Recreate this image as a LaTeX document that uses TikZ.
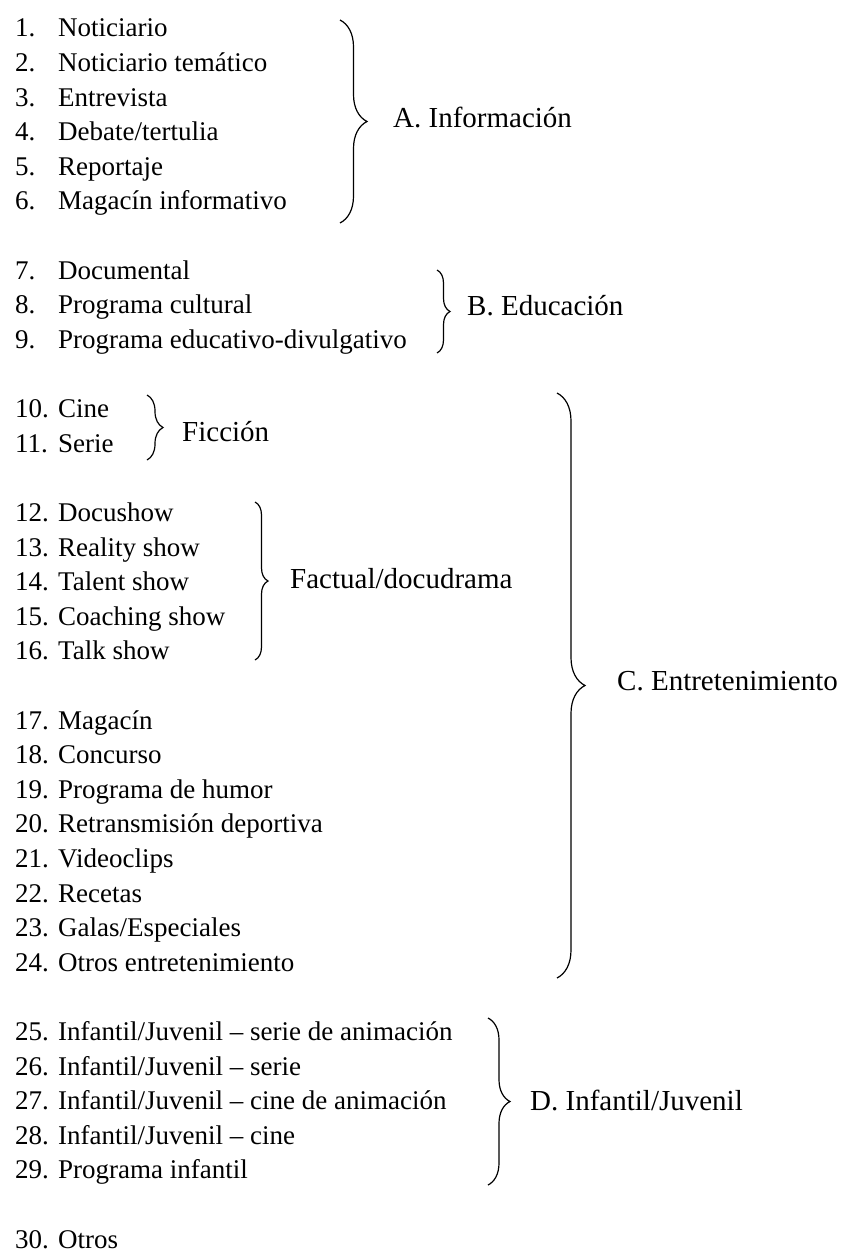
\documentclass[tikz,border=0pt]{standalone}
\usepackage{fontspec}
\setmainfont{Liberation Serif}
\usetikzlibrary{decorations.pathreplacing}
\newcommand{\rowgap}{34.6}
\newcommand{\numw}{43pt}
\newcommand{\entry}[2]{\makebox[\numw][l]{#1.}#2}
\tikzset{
    common/.style={inner sep=0pt, font=\fontsize{27}{32}\selectfont},
    item/.style={common, anchor=base west},
    catlabel/.style={common, anchor=base west, font=\fontsize{29}{34}\selectfont},
    grp/.style={decorate, decoration={brace, amplitude=#1}, line width=1.2pt}
}
\begin{document}
\begin{tikzpicture}[x=1pt, y=-1pt]
              \useasboundingbox (0,0) rectangle (842,1252);

              \path
                  (15,37) node[item] (r1) {\entry{1}{Noticiario}}
                  ++(0,\rowgap) node[item] (r2) {\entry{2}{Noticiario temático}}
                  ++(0,\rowgap) node[item] (r3) {\entry{3}{Entrevista}}
                  ++(0,\rowgap) node[item] (r4) {\entry{4}{Debate/tertulia}}
                  ++(0,\rowgap) node[item] (r5) {\entry{5}{Reportaje}}
                  ++(0,\rowgap) node[item] (r6) {\entry{6}{Magacín informativo}}
                  ++(0,2*\rowgap) node[item] (r7) {\entry{7}{Documental}}
                  ++(0,\rowgap) node[item] (r8) {\entry{8}{Programa cultural}}
                  ++(0,\rowgap) node[item] (r9) {\entry{9}{Programa educativo-divulgativo}}
                  ++(0,2*\rowgap) node[item] (r10) {\entry{10}{Cine}}
                  ++(0,\rowgap) node[item] (r11) {\entry{11}{Serie}}
                  ++(0,2*\rowgap) node[item] (r12) {\entry{12}{Docushow}}
                  ++(0,\rowgap) node[item] (r13) {\entry{13}{Reality show}}
                  ++(0,\rowgap) node[item] (r14) {\entry{14}{Talent show}}
                  ++(0,\rowgap) node[item] (r15) {\entry{15}{Coaching show}}
                  ++(0,\rowgap) node[item] (r16) {\entry{16}{Talk show}}
                  ++(0,2*\rowgap) node[item] (r17) {\entry{17}{Magacín}}
                  ++(0,\rowgap) node[item] (r18) {\entry{18}{Concurso}}
                  ++(0,\rowgap) node[item] (r19) {\entry{19}{Programa de humor}}
                  ++(0,\rowgap) node[item] (r20) {\entry{20}{Retransmisión deportiva}}
                  ++(0,\rowgap) node[item] (r21) {\entry{21}{Videoclips}}
                  ++(0,\rowgap) node[item] (r22) {\entry{22}{Recetas}}
                  ++(0,\rowgap) node[item] (r23) {\entry{23}{Galas/Especiales}}
                  ++(0,\rowgap) node[item] (r24) {\entry{24}{Otros entretenimiento}}
                  ++(0,2*\rowgap) node[item] (r25) {\entry{25}{Infantil/Juvenil – serie de animación}}
                  ++(0,\rowgap) node[item] (r26) {\entry{26}{Infantil/Juvenil – serie}}
                  ++(0,\rowgap) node[item] (r27) {\entry{27}{Infantil/Juvenil – cine de animación}}
                  ++(0,\rowgap) node[item] (r28) {\entry{28}{Infantil/Juvenil – cine}}
                  ++(0,\rowgap) node[item] (r29) {\entry{29}{Programa infantil}}
                  ++(0,2*\rowgap) node[item] (r30) {\entry{30}{Otros}};

              % braces
              \draw[grp=27] (340,20) -- (340,223);
              \draw[grp=13] (437,270) -- (437,353);
              \draw[grp=16] (147,395) -- (147,460);
              \draw[grp=13] (255,502) -- (255,660);
              \draw[grp=28] (557,393) -- (557,978);
              \draw[grp=22] (488,1018) -- (488,1185);

              \node[catlabel] (catA) at (393,128) {A. Información};
              \node[catlabel] (catB) at (467,315) {B. Educación};
              \node[catlabel] (ficcion) at (182,441) {Ficción};
              \node[catlabel] (factual) at (290,588) {Factual/docudrama};
              \node[catlabel] (catC) at (617,690) {C. Entretenimiento};
              \node[catlabel] (catD) at (530,1110) {D. Infantil/Juvenil};
            \end{tikzpicture}
\end{document}
